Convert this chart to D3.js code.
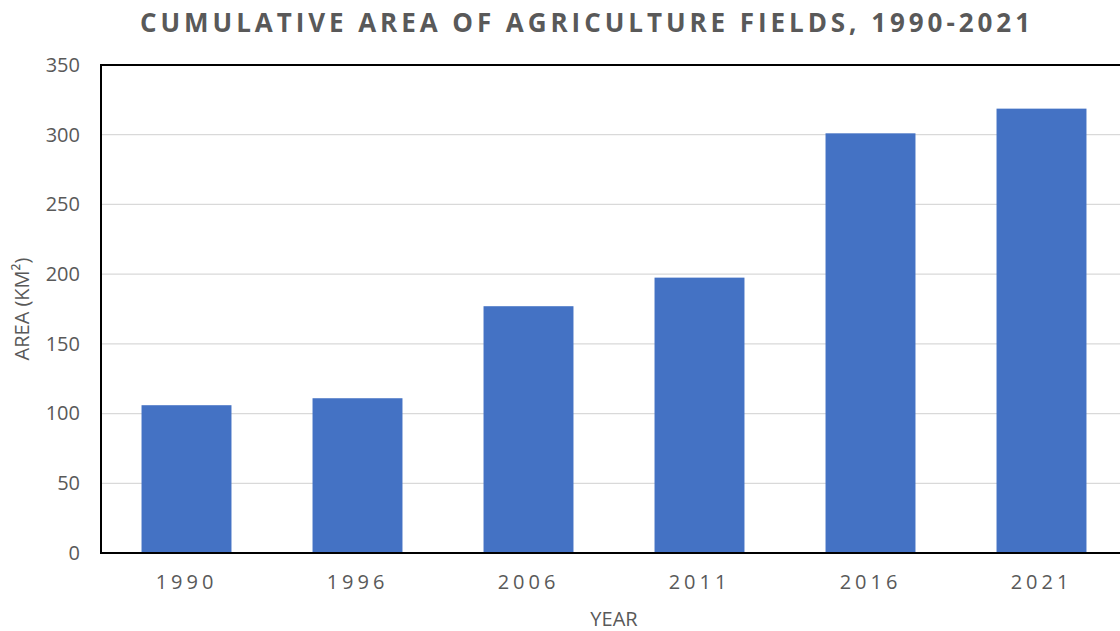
<!DOCTYPE html>
<html>
<head>
<meta charset="utf-8">
<script src="https://cdn.jsdelivr.net/npm/d3@7"></script>
<style>
  html, body { margin: 0; padding: 0; background: #fff; }
  svg { display: block; font-family: "Open Sans", sans-serif; }
</style>
</head>
<body>
<div id="chart"></div>
<script>
// CONST and GLOBALS
const years = ["1990", "1996", "2006", "2011", "2016", "2021"];
const areas = [106, 111, 177, 197.5, 301, 318.7];
const yTicks = [0, 50, 100, 150, 200, 250, 300, 350];

const width = 1120,
  height = 631;
let margin = { top: 65, bottom: 78, left: 101, right: -7 };

const svg = d3
  .select("#chart")
  .append("svg")
  .attr("width", width)
  .attr("height", height);

// SCALES
const xScale = d3
  .scaleBand()
  .domain(years)
  .range([margin.left, width - margin.right])
  .paddingInner(0.474)
  .paddingOuter(0.237);

const yScale = d3
  .scaleLinear()
  .domain([0, 350])
  .range([height - margin.bottom, margin.top]);

// gridlines (top one is the frame)
svg
  .append("g")
  .selectAll("line")
  .data(yTicks.filter((d) => d > 0 && d < 350))
  .join("line")
  .attr("x1", margin.left)
  .attr("x2", width - margin.right)
  .attr("y1", (d) => yScale(d))
  .attr("y2", (d) => yScale(d))
  .attr("stroke", "#d9d9d9")
  .attr("stroke-width", 1.3);

// bars
svg
  .append("g")
  .selectAll("rect")
  .data(areas)
  .join("rect")
  .attr("x", (d, i) => xScale(years[i]))
  .attr("width", xScale.bandwidth())
  .attr("y", (d) => yScale(d))
  .attr("height", (d) => yScale(0) - yScale(d))
  .attr("fill", "#4472c4");

// frame: left, top, bottom
svg
  .append("path")
  .attr(
    "d",
    `M${width - margin.right},${yScale(350)}H${margin.left}V${yScale(0)}H${width - margin.right}`
  )
  .attr("fill", "none")
  .attr("stroke", "#000")
  .attr("stroke-width", 2);

// AXES
const yAxis = d3.axisLeft(yScale).tickValues(yTicks).tickSize(0).tickPadding(21);
svg
  .append("g")
  .attr("transform", `translate(${margin.left},0)`)
  .call(yAxis)
  .call((g) => g.select(".domain").remove())
  .selectAll("text")
  .attr("fill", "#595959")
  .attr("font-size", 20)
  .attr("font-family", "Open Sans, sans-serif");

const xAxis = d3.axisBottom(xScale).tickSize(0).tickPadding(22);
svg
  .append("g")
  .attr("transform", `translate(0,${yScale(0)})`)
  .call(xAxis)
  .call((g) => g.select(".domain").remove())
  .selectAll("text")
  .attr("fill", "#595959")
  .attr("font-size", 20)
  .attr("letter-spacing", "4px")
  .attr("font-family", "Open Sans, sans-serif");

// title
svg
  .append("text")
  .attr("x", 585)
  .attr("y", 32)
  .attr("text-anchor", "middle")
  .attr("fill", "#595959")
  .attr("font-size", 26)
  .attr("font-weight", "bold")
  .attr("textLength", 890)
  .attr("lengthAdjust", "spacing")
  .text("CUMULATIVE  AREA OF AGRICULTURE  FIELDS,  1990-2021");

// axis labels
svg
  .append("text")
  .attr("x", 614)
  .attr("y", 626)
  .attr("text-anchor", "middle")
  .attr("fill", "#595959")
  .attr("font-size", 20)
  .text("YEAR");

svg
  .append("text")
  .attr("transform", `translate(29,${(yScale(0) + yScale(350)) / 2}) rotate(-90)`)
  .attr("text-anchor", "middle")
  .attr("fill", "#595959")
  .attr("font-size", 20)
  .text("AREA (KM²)");
</script>
</body>
</html>
